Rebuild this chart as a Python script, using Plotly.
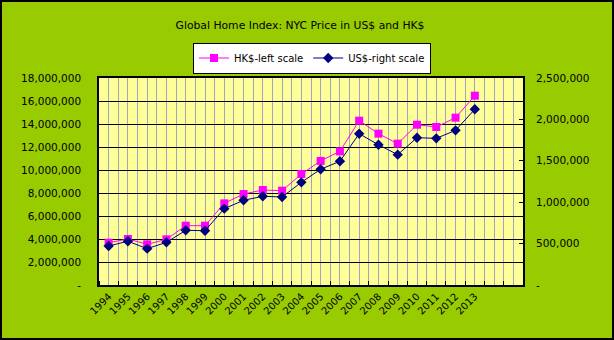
import plotly.graph_objects as go

# NYC home price index, annual
years = ["1994", "1995", "1996", "1997", "1998", "1999", "2000", "2001", "2002", "2003",
         "2004", "2005", "2006", "2007", "2008", "2009", "2010", "2011", "2012", "2013"]
hkd_price = [3680000, 4000000, 3540000, 3970000, 5160000, 5160000, 7100000, 7910000, 8260000, 8200000,
             9650000, 10790000, 11620000, 14290000, 13160000, 12290000, 13940000, 13740000, 14550000, 16460000]
usd_price = [471000, 528000, 439000, 515000, 660000, 656000, 922000, 1023000, 1071000, 1063000,
             1240000, 1398000, 1494000, 1827000, 1694000, 1574000, 1779000, 1771000, 1868000, 2122000]

n_slots = 22  # two empty category slots after the last year
left_ticks = [0, 2000000, 4000000, 6000000, 8000000, 10000000, 12000000, 14000000, 16000000, 18000000]
right_ticks = [0, 500000, 1000000, 1500000, 2000000, 2500000]


def fmt(v):
    return "-" if v == 0 else f"{v:,}"


W, H = 614, 340
ML, MR, MT, MB = 99, 91, 78, 55
pw, ph = W - ML - MR, H - MT - MB

FONT = "DejaVu Sans"
GRID_V = "#A3A3C3"

xs = list(range(len(years)))

fig = go.Figure()
fig.add_trace(go.Scatter(
    x=xs, y=hkd_price, name="HK$-left scale", mode="lines+markers",
    line=dict(color="#FF00FF", width=1),
    marker=dict(symbol="square", size=8, color="#FF00FF"),
))
fig.add_trace(go.Scatter(
    x=xs, y=usd_price, name="US$-right scale", mode="lines+markers", yaxis="y2",
    line=dict(color="#000080", width=1),
    marker=dict(symbol="diamond", size=8, color="#000080"),
))

fig.update_layout(
    width=W, height=H,
    margin=dict(l=ML, r=MR, t=MT, b=MB, pad=0),
    paper_bgcolor="#99CC00",
    plot_bgcolor="#FFFF99",
    font=dict(family=FONT, size=10, color="#000000"),
    title=dict(
        text="Global Home Index: NYC Price in US$ and HK$",
        x=300 / W, xanchor="center", y=1 - 25 / H, yanchor="middle",
        font=dict(family=FONT, size=10.8, color="#000000"),
    ),
    showlegend=True,
    legend=dict(
        orientation="h", x=(312 - ML) / pw, xanchor="center",
        y=1 + (MT - 58) / ph, yanchor="middle",
        bgcolor="#FFFFFF", bordercolor="#000000", borderwidth=1,
        font=dict(family=FONT, size=10, color="#000000"),
        itemwidth=30, tracegroupgap=0,
    ),
    xaxis=dict(
        range=[-0.5, n_slots - 0.5],
        tickmode="array",
        tickvals=list(range(n_slots)),
        ticktext=years + [""] * (n_slots - len(years)),
        tickangle=-45,
        ticks="",
        showgrid=True, gridcolor=GRID_V, gridwidth=1,
        minor=dict(tick0=-0.5, dtick=1, showgrid=True, gridcolor=GRID_V, gridwidth=1,
                   ticks="inside", ticklen=4, tickcolor="#000000", tickwidth=1),
        showline=True, linecolor="#000000", linewidth=1.5, mirror=True,
        zeroline=False,
        tickfont=dict(family=FONT, size=10, color="#000000"),
    ),
    yaxis=dict(
        range=[0, 18000000],
        tickmode="array", tickvals=left_ticks, ticktext=[fmt(v) for v in left_ticks],
        showgrid=True, gridcolor="#000000", gridwidth=1,
        showline=True, linecolor="#000000", linewidth=1.5, mirror=True,
        zeroline=False, ticks="", ticklabelstandoff=14,
        tickfont=dict(family=FONT, size=10.5, color="#000000"),
    ),
    yaxis2=dict(
        range=[0, 2500000], overlaying="y", side="right",
        tickmode="array", tickvals=right_ticks, ticktext=[fmt(v) for v in right_ticks],
        showgrid=False, zeroline=False,
        ticks="inside", ticklen=4, tickcolor="#000000", tickwidth=1,
        showline=False, ticklabelstandoff=12,
        tickfont=dict(family=FONT, size=10.5, color="#000000"),
    ),
    shapes=[dict(
        type="rect", xref="paper", yref="paper",
        x0=-(ML - 1) / pw, x1=1 + (MR - 1) / pw,
        y0=-(MB - 1) / ph, y1=1 + (MT - 1) / ph,
        line=dict(color="#000000", width=2), fillcolor="rgba(0,0,0,0)", layer="above",
    )],
)

fig.write_html("out.html")
